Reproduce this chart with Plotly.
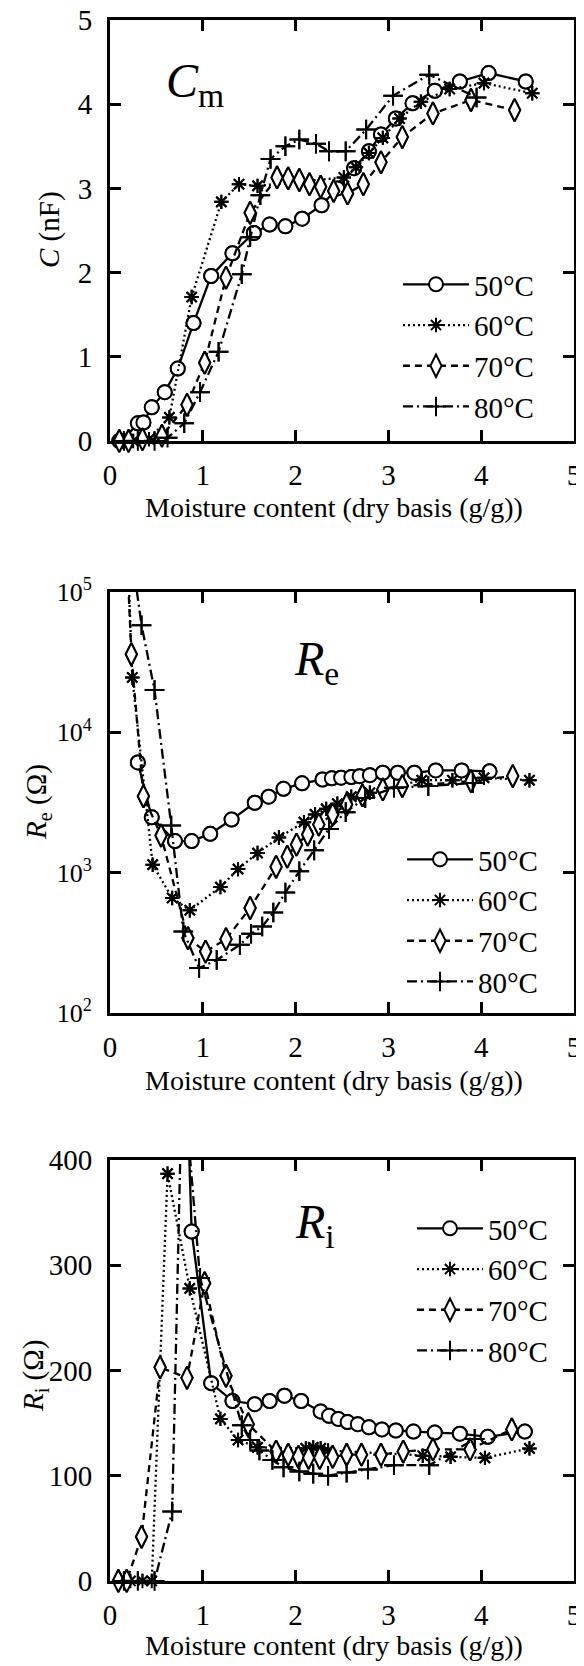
import plotly.graph_objects as go

# ---------------- data ----------------
labels = ["50°C", "60°C", "70°C", "80°C"]

# Panel 1: C (nF)
x50_c = [0.10, 0.13, 0.30, 0.36, 0.45, 0.59, 0.73, 0.90, 1.09, 1.32, 1.55, 1.72, 1.89, 2.07, 2.28, 2.45, 2.63, 2.79, 2.92, 3.08, 3.26, 3.50, 3.77, 4.08, 4.48]
y50_c = [0.0, 0.0, 0.21, 0.22, 0.40, 0.58, 0.86, 1.40, 1.96, 2.23, 2.47, 2.57, 2.55, 2.64, 2.80, 3.00, 3.24, 3.44, 3.64, 3.83, 4.01, 4.16, 4.27, 4.37, 4.27]
x60_c = [0.12, 0.25, 0.42, 0.64, 0.88, 1.20, 1.39, 1.59, 2.52, 2.65, 2.79, 2.94, 3.12, 3.35, 3.66, 4.03, 4.55]
y60_c = [0.0, 0.0, 0.02, 0.28, 1.71, 2.84, 3.05, 3.03, 3.13, 3.25, 3.42, 3.60, 3.83, 4.03, 4.18, 4.25, 4.13]
x70_c = [0.10, 0.20, 0.35, 0.56, 0.83, 1.02, 1.25, 1.51, 1.80, 1.92, 2.04, 2.15, 2.27, 2.41, 2.56, 2.73, 2.92, 3.15, 3.48, 3.89, 4.36]
y70_c = [0.0, 0.0, 0.02, 0.06, 0.43, 0.93, 1.94, 2.71, 3.13, 3.12, 3.10, 3.05, 3.02, 2.97, 2.94, 3.05, 3.31, 3.61, 3.89, 4.05, 3.93]
x80_c = [0.15, 0.30, 0.48, 0.62, 0.80, 0.97, 1.17, 1.42, 1.51, 1.62, 1.73, 1.89, 2.04, 2.22, 2.36, 2.54, 2.76, 3.05, 3.44, 3.95]
y80_c = [0.0, 0.0, 0.0, 0.04, 0.21, 0.58, 1.06, 1.98, 2.42, 2.92, 3.35, 3.50, 3.58, 3.53, 3.44, 3.44, 3.70, 4.10, 4.35, 4.08]

# Panel 2: Re (Ohm)
x50_re = [0.30, 0.45, 0.70, 0.88, 1.08, 1.31, 1.56, 1.71, 1.87, 2.07, 2.29, 2.39, 2.49, 2.60, 2.69, 2.80, 2.94, 3.10, 3.28, 3.51, 3.79, 4.09]
y50_re = [6100, 2480, 1680, 1680, 1890, 2390, 3150, 3480, 3960, 4330, 4610, 4700, 4750, 4800, 4870, 4950, 5150, 5150, 5150, 5350, 5350, 5270]
x60_re = [0.18, 0.24, 0.46, 0.67, 0.86, 1.19, 1.38, 1.59, 1.82, 2.09, 2.21, 2.33, 2.45, 2.60, 2.80, 3.36, 3.69, 4.03, 4.52]
y60_re = [300000, 24600, 1140, 660, 540, 790, 1060, 1380, 1780, 2290, 2600, 2850, 3100, 3480, 3710, 4560, 4560, 4750, 4560]
x70_re = [0.17, 0.23, 0.36, 0.55, 0.84, 1.03, 1.25, 1.51, 1.79, 1.91, 2.01, 2.13, 2.25, 2.40, 2.55, 2.72, 2.94, 3.15, 3.89, 4.34]
y70_re = [300000, 36000, 3500, 1840, 342, 274, 336, 560, 1100, 1300, 1585, 1870, 2200, 2600, 3060, 3550, 3920, 4140, 4490, 4880]
x80_re = [0.20, 0.34, 0.48, 0.66, 0.79, 0.96, 1.15, 1.40, 1.52, 1.64, 1.76, 1.89, 2.04, 2.20, 2.36, 2.54, 2.75, 3.06, 3.43, 3.91]
y80_re = [270000, 58000, 20000, 2170, 381, 209, 239, 306, 367, 413, 520, 723, 1023, 1442, 2050, 2700, 3400, 4030, 4140, 4360]

# Panel 3: Ri (Ohm)
x50_ri = [0.70, 0.88, 1.09, 1.32, 1.56, 1.72, 1.88, 2.06, 2.27, 2.36, 2.46, 2.56, 2.67, 2.79, 2.93, 3.08, 3.27, 3.50, 3.77, 4.07, 4.47]
y50_ri = [820, 332, 188, 171, 168, 171, 176, 171, 161, 157, 154, 151, 149, 146, 144, 143, 142, 141, 140, 137, 142]
x60_ri = [0.12, 0.22, 0.35, 0.45, 0.62, 0.86, 1.19, 1.38, 1.59, 2.11, 2.19, 2.27, 2.35, 3.37, 3.67, 4.04, 4.52]
y60_ri = [0, 0, 0, 0, 387, 278, 154, 134, 127, 126, 127, 126, 124, 119, 118, 117, 126]
x70_ri = [0.09, 0.18, 0.34, 0.54, 0.83, 1.02, 1.25, 1.49, 1.79, 1.92, 2.03, 2.14, 2.26, 2.40, 2.55, 2.71, 2.92, 3.16, 3.48, 3.88, 4.33]
y70_ri = [0, 0, 42, 203, 193, 283, 195, 149, 123, 120, 118, 117, 117, 118, 120, 120, 120, 123, 125, 125, 144]
x80_ri = [0.15, 0.30, 0.48, 0.67, 0.78, 0.97, 1.42, 1.51, 1.61, 1.75, 1.87, 2.04, 2.19, 2.35, 2.55, 2.78, 3.06, 3.44, 3.93]
y80_ri = [0, 0, 0, 66, 490, 288, 148, 134, 124, 115, 108, 104, 102, 100, 103, 106, 110, 110, 135]

x_ticks = [0, 1, 2, 3, 4, 5]
c_ticks = [0, 1, 2, 3, 4, 5]
re_ticks = [100, 1000, 10000, 100000]
re_ticktext = ["10<sup>2</sup>", "10<sup>3</sup>", "10<sup>4</sup>", "10<sup>5</sup>"]
ri_ticks = [0, 100, 200, 300, 400]
xtitle = "Moisture content (dry basis (g/g))"

# ---------------- styles ----------------
FONT = "Liberation Serif"
FS = 29
W, H = 584, 1666
OFF = 8  # page body margin offset of the figure
styles = [
    dict(dash="solid", symbol="circle", size=14, fill="white"),
    dict(dash="2px,3px", symbol="asterisk-open", size=12, fill="black"),
    dict(dash="7px,5px", symbol="diamond-tall", size=16, fill="white"),
    dict(dash="10px,4px,2px,4px", symbol="cross-thin-open", size=14, fill="black"),
]

def py(p):  # screen pixel from top -> paper fraction
    return 1 - (p - OFF) / H

def px(p):
    return (p - OFF) / W

panels = [
    dict(xs=[x50_c, x60_c, x70_c, x80_c], ys=[y50_c, y60_c, y70_c, y80_c],
         dom=(20, 441), rng=(0, 5), log=False),
    dict(xs=[x50_re, x60_re, x70_re, x80_re], ys=[y50_re, y60_re, y70_re, y80_re],
         dom=(592, 1013), rng=(100, 100000), log=True),
    dict(xs=[x50_ri, x60_ri, x70_ri, x80_ri], ys=[y50_ri, y60_ri, y70_ri, y80_ri],
         dom=(1160, 1581), rng=(0, 400), log=False),
]

fig = go.Figure()
legend_names = ["legend", "legend2", "legend3"]
for pi, pan in enumerate(panels):
    xa = "x" if pi == 0 else f"x{pi+1}"
    ya = "y" if pi == 0 else f"y{pi+1}"
    lo, hi = pan["rng"]
    for si in range(4):
        st = styles[si]
        xs, ys = pan["xs"][si], pan["ys"][si]
        fig.add_trace(go.Scatter(
            x=xs, y=ys, xaxis=xa, yaxis=ya, mode="lines+markers", name=labels[si],
            legend=legend_names[pi], legendgroup=f"p{pi}s{si}",
            line=dict(color="black", width=2.3, dash=st["dash"]),
            marker=dict(symbol=st["symbol"], size=st["size"], color=st["fill"],
                        line=dict(color="black", width=2)),
            cliponaxis=True, showlegend=True))
        # full markers for points inside the axis range (not clipped at edges)
        inx = [x for x, y in zip(xs, ys) if lo <= y <= hi]
        iny = [y for x, y in zip(xs, ys) if lo <= y <= hi]
        fig.add_trace(go.Scatter(
            x=inx, y=iny, xaxis=xa, yaxis=ya, mode="markers", showlegend=False,
            marker=dict(symbol=st["symbol"], size=st["size"], color=st["fill"],
                        line=dict(color="black", width=2)),
            cliponaxis=False, hoverinfo="skip"))

axis_common = dict(showline=True, linewidth=3, linecolor="black", mirror="ticks",
                   ticks="inside", ticklen=11, tickwidth=3, tickcolor="black",
                   showgrid=False, zeroline=False, automargin=False,
                   ticklabeloverflow="allow",
                   tickfont=dict(family=FONT, size=FS, color="black"))

layout = dict(width=W, height=H, margin=dict(l=0, r=0, t=0, b=0, autoexpand=False),
              paper_bgcolor="white", plot_bgcolor="white",
              font=dict(family=FONT, size=FS, color="black"))
for pi, pan in enumerate(panels):
    sx = "" if pi == 0 else str(pi + 1)
    top, bot = pan["dom"]
    layout[f"xaxis{sx}"] = dict(axis_common, domain=[px(110), px(574)], range=[0, 5],
                                tickvals=x_ticks, anchor=f"y{sx}", ticklabelstandoff=6)
    ydict = dict(axis_common, domain=[py(bot), py(top)], anchor=f"x{sx}", ticklabelstandoff=9)
    if pan["log"]:
        ydict.update(type="log", range=[2, 5], tickvals=re_ticks, ticktext=re_ticktext,
                     tickfont=dict(family=FONT, size=26, color="black"), ticklabelstandoff=10)
    elif pi == 0:
        ydict.update(range=[0, 5], tickvals=c_ticks)
    else:
        ydict.update(range=[0, 400], tickvals=ri_ticks)
    layout[f"yaxis{sx}"] = ydict

leg_common = dict(font=dict(family=FONT, size=FS, color="black"), bgcolor="rgba(0,0,0,0)",
                  borderwidth=0, tracegroupgap=0, xanchor="left", yanchor="top",
                  itemwidth=66)
layout["legend"] = dict(leg_common, x=px(398), y=py(259))
layout["legend2"] = dict(leg_common, x=px(402), y=py(834))
layout["legend3"] = dict(leg_common, x=px(412), y=py(1203))
fig.update_layout(**layout)

ann = []
# x-axis titles
for yy in (508, 1080, 1645):
    ann.append(dict(text=xtitle, xref="paper", yref="paper", x=px(334), y=py(yy),
                    xanchor="center", yanchor="middle", showarrow=False,
                    font=dict(family=FONT, size=28)))
# y-axis titles
for txt, xx, yy in (("<i>C</i> (nF)", 50, 230), ("<i>R</i><sub>e</sub> (Ω)", 38, 802),
                    ("<i>R</i><sub>i</sub> (Ω)", 35, 1376)):
    ann.append(dict(text=txt, xref="paper", yref="paper", x=px(xx), y=py(yy),
                    xanchor="center", yanchor="middle", textangle=-90, showarrow=False,
                    font=dict(family=FONT, size=FS)))
# panel labels
for txt, xx, yy in (("<i>C</i><sub>m</sub>", 195, 84), ("<i>R</i><sub>e</sub>", 316, 662),
                    ("<i>R</i><sub>i</sub>", 315, 1225)):
    ann.append(dict(text=txt, xref="paper", yref="paper", x=px(xx), y=py(yy),
                    xanchor="center", yanchor="middle", showarrow=False,
                    font=dict(family=FONT, size=48)))
fig.update_layout(annotations=ann)

fig.write_html("out.html")
